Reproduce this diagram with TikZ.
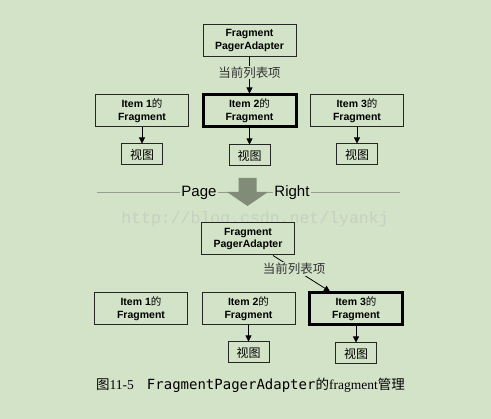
\documentclass[tikz,border=0pt]{standalone}
\usepackage{fontspec}
\setmainfont{Liberation Sans}
\newfontfamily\cjk{Noto Sans CJK SC}
\newfontfamily\monofont{DejaVu Sans Mono}
\newfontfamily\wmfont{Liberation Mono}
\newfontfamily\seriffont{Liberation Serif}
\usetikzlibrary{arrows.meta,positioning}
\definecolor{bg}{RGB}{211,227,200}
\definecolor{bigarrow}{RGB}{128,140,120}
\definecolor{sepgray}{RGB}{150,158,145}
\definecolor{mark}{RGB}{198,208,192}
\newcommand\zhde{{\mdseries\cjk 的}}

\begin{document}
\begin{tikzpicture}[x=1pt, y=1pt,
    node distance=16pt,
    box/.style={draw=black!85, line width=1pt, fill=bg, align=center, inner sep=0pt, minimum width=93pt, minimum height=32pt, font=\fontsize{10.5}{12.7}\selectfont\bfseries},
    cur/.style={box, line width=3pt, draw=black},
    view/.style={draw=black!85, line width=1pt, fill=bg, inner sep=0pt, minimum width=41pt, minimum height=21pt, font=\fontsize{12}{14}\selectfont\cjk},
    lbl/.style={fill=bg, inner sep=1pt, text=black!80, font=\fontsize{12.5}{14}\selectfont\cjk},
    arrow/.style={-{Triangle[width=6pt,length=6pt]}, line width=0.8pt}
]
\fill[bg] (0,0) rectangle (491,419);
\useasboundingbox (0,0) rectangle (491,419);

\node[box] (fpa1) at (249.5,378.5) {Fragment\\PagerAdapter};
\node[box] (item11) at (142,308) {Item 1\zhde\\Fragment};
\node[cur] (item12) at (249.5,308) {Item 2\zhde\\Fragment};
\node[box] (item13) at (357,308) {Item 3\zhde\\Fragment};
\node[view, below=of item11] (view11) {视图};
\node[view, below=of item12] (view12) {视图};
\node[view, below=of item13] (view13) {视图};

\draw[arrow] (fpa1) -- node[lbl, pos=0.42] (cur1) {当前列表项} (item12);
\draw[arrow] (item11) -- (view11);
\draw[arrow] (item12) -- (view12);
\draw[arrow] (item13) -- (view13);

\coordinate (sepl) at (97,226);
\coordinate (sepr) at (400,226);
\draw[sepgray, line width=1pt] (sepl) -- (sepr);
\fill[bigarrow] (238.5,241) -- (256.5,241) -- (256.5,227) -- (268,227) -- (247.5,213) -- (227,227) -- (238.5,227) -- cycle;
\node[fill=bg, inner sep=1pt, font=\fontsize{15}{16}\selectfont] (page) at (199,226) {Page};
\node[fill=bg, inner sep=1pt, font=\fontsize{15}{16}\selectfont] (right) at (292,226) {Right};

\node[text=mark, font=\fontsize{16.5}{18}\selectfont\wmfont] (wmark) at (255,200) {http://blog.csdn.net/lyankj};

\node[box] (fpa2) at (248,180) {Fragment\\PagerAdapter};
\node[box] (item21) at (141,110) {Item 1\zhde\\Fragment};
\node[box] (item22) at (248.5,110) {Item 2\zhde\\Fragment};
\node[cur] (item23) at (356,110) {Item 3\zhde\\Fragment};
\node[view, below=of item22] (view22) {视图};
\node[view, below=of item23] (view23) {视图};

\draw[arrow] ([xshift=-22pt]fpa2.south east) -- node[lbl, pos=0.37] (cur2) {当前列表项} ([xshift=22pt]item23.north west);
\draw[arrow] (item22) -- (view22);
\draw[arrow] (item23) -- (view23);

\node[font=\fontsize{13.5}{15}\selectfont] (caption) at (250.5,34) {{\cjk 图}{\seriffont 11-5}\hspace{13pt}{\monofont\fontsize{14}{15}\selectfont FragmentPagerAdapter}{\cjk 的}{\seriffont fragment}{\cjk 管理}};
\end{tikzpicture}
\end{document}
